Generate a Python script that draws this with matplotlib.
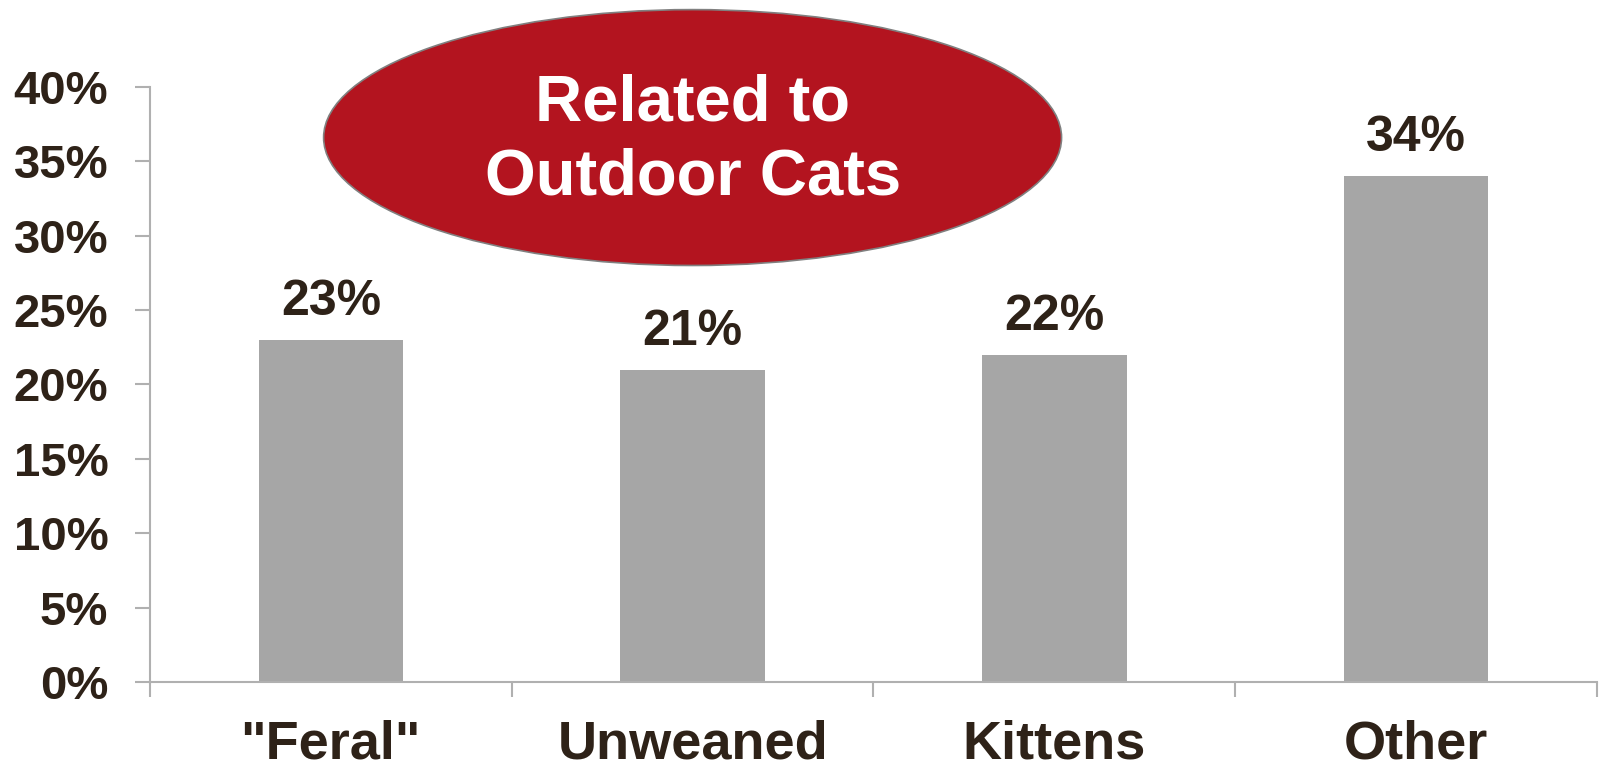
import matplotlib
matplotlib.use("Agg")
import matplotlib.pyplot as plt
from matplotlib.patches import Ellipse
import numpy as np

# data
categories = ['"Feral"', 'Unweaned', 'Kittens', 'Other']
values = [23, 21, 22, 34]
yticks = [0, 5, 10, 15, 20, 25, 30, 35, 40]

plt.rcParams['font.family'] = ['Liberation Sans', 'DejaVu Sans']
txt_col = '#2E2218'
axis_col = '#B0B0B0'

fig = plt.figure(figsize=(15.99, 7.71), dpi=100)
ax = fig.add_axes([0.0938, 0.1154, 0.9049, 0.7718])

x = np.arange(len(categories))
ax.bar(x, values, width=0.40, color='#A6A6A6', zorder=2)

for xi, v in zip(x, values):
    ax.text(xi, v + 1.0, f'{v}%', ha='center', va='bottom',
            fontsize=36, fontweight='bold', color=txt_col)

ax.set_xlim(-0.5, len(categories) - 0.5)
ax.set_ylim(0, 40)
ax.set_yticks(yticks)
ax.set_yticklabels([f'{t}%' for t in yticks])
ax.set_xticks(np.arange(len(categories) + 1) - 0.5, minor=False)
ax.set_xticklabels([''] * (len(categories) + 1))
ax.set_xticks(x, minor=True)
ax.set_xticklabels(categories, minor=True)

ax.tick_params(axis='y', length=11, width=1.5, color=axis_col, pad=19,
               labelsize=34, labelcolor=txt_col)
ax.tick_params(axis='x', which='major', length=11, width=1.5, color=axis_col)
ax.tick_params(axis='x', which='minor', length=0, pad=27,
               labelsize=39, labelcolor=txt_col)
for lab in ax.get_yticklabels() + ax.get_xticklabels(minor=True):
    lab.set_fontweight('bold')

for s in ['top', 'right']:
    ax.spines[s].set_visible(False)
for s in ['left', 'bottom']:
    ax.spines[s].set_color(axis_col)
    ax.spines[s].set_linewidth(1.5)

# red callout ellipse
ell = Ellipse((1.0, 36.6), 2.04, 17.2, facecolor='#B3141F', edgecolor='#808080',
              linewidth=1.2, clip_on=False, zorder=3)
ax.add_patch(ell)
ax.text(1.0, 36.4, 'Related to\nOutdoor Cats', ha='center', va='center',
        fontsize=47, fontweight='bold', color='white', linespacing=1.3,
        zorder=4, clip_on=False)

fig.savefig('out.png', dpi=100)
